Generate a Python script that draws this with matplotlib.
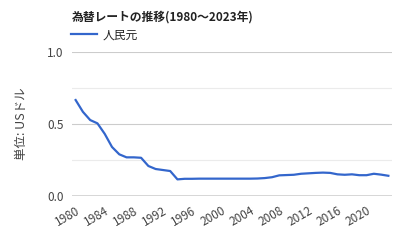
import matplotlib.pyplot as plt

plt.rcParams['font.family'] = ['Noto Sans CJK JP', 'DejaVu Sans']

years = list(range(1980, 2024))
cny = [0.667, 0.585, 0.528, 0.505, 0.432, 0.341, 0.290, 0.269, 0.269, 0.266,
       0.209, 0.188, 0.181, 0.174, 0.116, 0.120, 0.120, 0.121, 0.121, 0.121,
       0.121, 0.121, 0.121, 0.121, 0.121, 0.122, 0.125, 0.131, 0.144, 0.146,
       0.148, 0.155, 0.158, 0.161, 0.163, 0.161, 0.151, 0.148, 0.151, 0.145,
       0.145, 0.155, 0.149, 0.141]
xticks = list(range(1980, 2024, 4))
yticks = [0.0, 0.5, 1.0]

fig = plt.figure(figsize=(4, 2.4), dpi=100)
ax = fig.add_axes([0.18, 0.183, 0.80, 0.60])

for y in [0.25, 0.75]:
    ax.axhline(y, color='#ebebeb', lw=0.8, zorder=0)
for y in [0.5, 1.0]:
    ax.axhline(y, color='#cccccc', lw=0.8, zorder=0)
ax.axhline(0, color='#333333', lw=1.0, zorder=1)

ax.plot(years, cny, color='#3366cc', lw=1.6, label='人民元', zorder=2)

ax.set_xlim(1979.5, 2023.5)
ax.set_ylim(0, 1.0)
ax.set_yticks(yticks)
ax.set_yticklabels(['0.0', '0.5', '1.0'])
ax.set_xticks(xticks)
ax.set_xticklabels([str(x) for x in xticks], rotation=30, ha='right', rotation_mode='anchor')
ax.tick_params(length=0, labelsize=8.5, colors='#444444', pad=6)
for s in ax.spines.values():
    s.set_visible(False)

ax.set_ylabel('単位: USドル', fontsize=9, color='#444444', labelpad=14)

fig.text(0.18, 0.93, '為替レートの推移(1980～2023年)', fontsize=8.5, fontweight='bold', color='#222222', va='center')
ax.legend(loc='center left', bbox_to_anchor=(-0.01, 1.118), frameon=False, fontsize=8.5,
          handlelength=2.2, handletextpad=0.5, borderaxespad=0, borderpad=0.2, labelcolor='#222222')

fig.savefig('out.png', dpi=100)
